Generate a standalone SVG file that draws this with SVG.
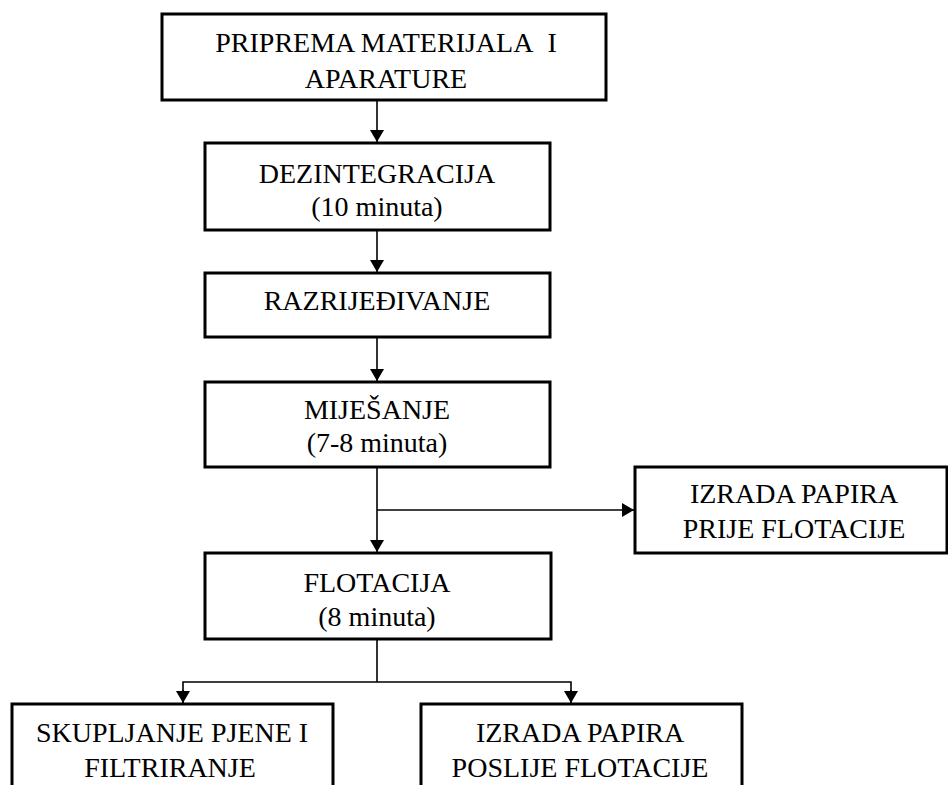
<svg xmlns="http://www.w3.org/2000/svg" width="948" height="785" viewBox="0 0 948 785">
<style>
.box{fill:#fff;stroke:#000;stroke-width:3}
.c{fill:none;stroke:#000;stroke-width:1.6}
</style>
<defs>
<marker id="ah" markerUnits="userSpaceOnUse" markerWidth="12" markerHeight="14" viewBox="0 0 12 14" refX="12" refY="7" orient="auto">
<path d="M0,0 L12,7 L0,14 Z" fill="#000"/>
</marker>
</defs>
<rect width="948" height="785" fill="#fff"/>
<g id="connectors">
<line class="c" x1="377" y1="100" x2="377" y2="142" marker-end="url(#ah)"/>
<line class="c" x1="377" y1="230" x2="377" y2="272" marker-end="url(#ah)"/>
<line class="c" x1="377" y1="337" x2="377" y2="381" marker-end="url(#ah)"/>
<line class="c" x1="377" y1="467" x2="377" y2="552" marker-end="url(#ah)"/>
<line class="c" x1="377" y1="510" x2="634" y2="510" marker-end="url(#ah)"/>
<polyline class="c" points="377,639 377,682"/>
<polyline class="c" points="183,703 183,682 571,682 571,703"/>
<line class="c" x1="183" y1="690" x2="183" y2="703" marker-end="url(#ah)"/>
<line class="c" x1="571" y1="690" x2="571" y2="703" marker-end="url(#ah)"/>
</g>
<g font-family="Liberation Serif, serif" font-size="28" text-anchor="middle" fill="#000">
<g id="n1">
<rect class="box" x="162" y="14" width="444" height="86"/>
<text x="386" y="52">PRIPREMA MATERIJALA&#160; I</text>
<text x="386" y="88">APARATURE</text>
</g>
<g id="n2">
<rect class="box" x="205" y="143" width="345" height="87"/>
<text x="377" y="183">DEZINTEGRACIJA</text>
<text x="377" y="216">(10 minuta)</text>
</g>
<g id="n3">
<rect class="box" x="205" y="273" width="345" height="64"/>
<text x="377" y="310">RAZRIJEĐIVANJE</text>
</g>
<g id="n4">
<rect class="box" x="205" y="382" width="345" height="85"/>
<text x="377" y="419">MIJEŠANJE</text>
<text x="377" y="452">(7-8 minuta)</text>
</g>
<g id="n5">
<rect class="box" x="635" y="467" width="312" height="86"/>
<text x="794" y="503">IZRADA PAPIRA</text>
<text x="794" y="538">PRIJE FLOTACIJE</text>
</g>
<g id="n6">
<rect class="box" x="205" y="553" width="346" height="86"/>
<text x="377" y="592">FLOTACIJA</text>
<text x="377" y="626">(8 minuta)</text>
</g>
<g id="n7">
<rect class="box" x="12" y="704" width="321" height="90"/>
<text x="172" y="742">SKUPLJANJE PJENE I</text>
<text x="170" y="777">FILTRIRANJE</text>
</g>
<g id="n8">
<rect class="box" x="421" y="704" width="321" height="90"/>
<text x="580" y="742">IZRADA PAPIRA</text>
<text x="580" y="777">POSLIJE FLOTACIJE</text>
</g>
</g>
</svg>
